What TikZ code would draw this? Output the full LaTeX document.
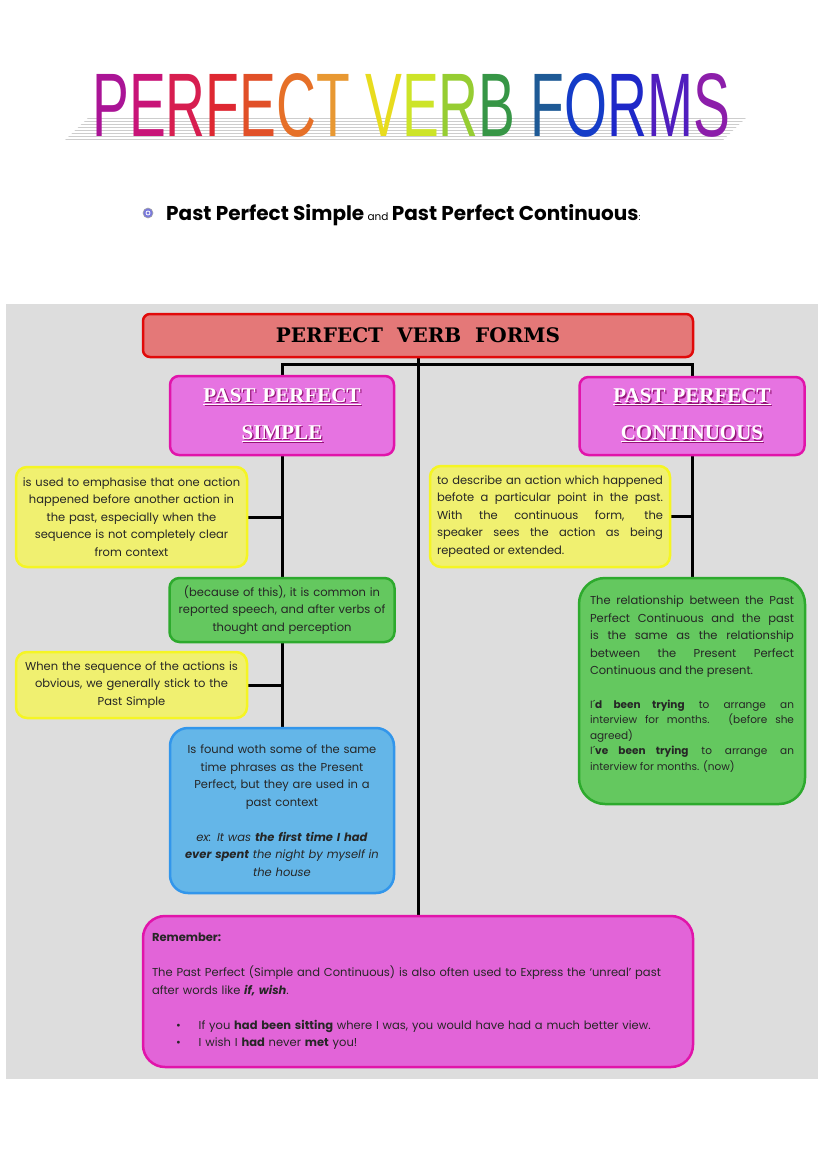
\documentclass[tikz,border=0pt]{standalone}
\usepackage{graphicx}
\usepackage{fontspec}
\setmainfont{Poppins}
\newfontfamily\titlefont{Liberation Sans}
\newfontfamily\slabfont{DejaVu Serif}
\newfontfamily\headfont{Liberation Serif}
\usetikzlibrary{backgrounds,patterns}

\definecolor{bggray}{RGB}{221,221,221}
\definecolor{redfill}{RGB}{228,120,120}
\definecolor{redline}{RGB}{225,10,10}
\definecolor{magfill}{RGB}{230,115,225}
\definecolor{magline}{RGB}{225,20,170}
\definecolor{remfill}{RGB}{226,100,216}
\definecolor{yelfill}{RGB}{240,240,112}
\definecolor{yelline}{RGB}{245,245,35}
\definecolor{grnfill}{RGB}{100,200,95}
\definecolor{grnline}{RGB}{45,170,45}
\definecolor{blufill}{RGB}{100,182,232}
\definecolor{bluline}{RGB}{50,150,235}
\definecolor{hdrshadow}{RGB}{150,20,120}
\definecolor{icoblue}{RGB}{120,120,220}
\definecolor{shadowgray}{RGB}{205,205,205}

\definecolor{tA}{RGB}{170,20,150}
\definecolor{tB}{RGB}{200,20,120}
\definecolor{tC}{RGB}{215,30,80}
\definecolor{tD}{RGB}{222,40,50}
\definecolor{tE}{RGB}{225,80,40}
\definecolor{tF}{RGB}{230,112,40}
\definecolor{tG}{RGB}{232,152,50}
\definecolor{tH}{RGB}{232,220,30}
\definecolor{tI}{RGB}{205,228,40}
\definecolor{tJ}{RGB}{150,205,50}
\definecolor{tK}{RGB}{55,150,70}
\definecolor{tL}{RGB}{30,90,150}
\definecolor{tM}{RGB}{20,60,200}
\definecolor{tN}{RGB}{30,40,200}
\definecolor{tO}{RGB}{80,30,190}
\definecolor{tP}{RGB}{140,30,170}

\newcommand\titletext{\titlefont\fontsize{40}{48}\selectfont
\textcolor{tA}{P}\textcolor{tB}{E}\textcolor{tC}{R}\textcolor{tD}{F}\textcolor{tE}{E}\textcolor{tF}{C}\textcolor{tG}{T} \textcolor{tH}{V}\textcolor{tI}{E}\textcolor{tJ}{R}\textcolor{tK}{B} \textcolor{tL}{F}\textcolor{tM}{O}\textcolor{tN}{R}\textcolor{tO}{M}\textcolor{tP}{S}}
\newcommand\shadowed[1]{\leavevmode\rlap{\kern1.3pt\raisebox{-1.3pt}{\textcolor{hdrshadow}{\underline{#1}}}}\textcolor{white}{\underline{#1}}}

\tikzset{
  boxbase/.style={draw, line width=2.5pt, inner sep=0pt},
  conn/.style={draw=black, line width=3pt},
  bodytext/.style={font=\fontsize{11.5}{17.5}\selectfont, text=black!85},
  hdrtext/.style={font=\headfont\bfseries\fontsize{21}{37}\selectfont, align=center, text width=200pt},
}

\begin{document}
\begin{tikzpicture}[x=1pt,y=-1pt]
\useasboundingbox (0,0) rectangle (821,1169);

% title shadow (striped band)
\fill[pattern=horizontal lines, pattern color=shadowgray] (64,141) -- (722,141) -- (748,116) -- (90,116) -- cycle;
% title
\node[anchor=south west, inner sep=0] (title) at (92,138) {\resizebox{638pt}{63pt}{\titletext}};

% subtitle
\node[circle, fill=icoblue, draw=gray!70, line width=0.6pt, minimum size=10pt, inner sep=0] (icon) at (148,213) {};
\node[circle, draw=white, line width=0.8pt, minimum size=4pt, inner sep=0] (iconin) at (icon.center) {};
\node[anchor=base west, inner sep=0] (sub) at (166,220) {\fontsize{20}{24}\selectfont\bfseries Past Perfect Simple\,{\mdseries\fontsize{10.5}{12}\selectfont and}\,Past Perfect Continuous{\mdseries\fontsize{9}{10}\selectfont :}};

% top box
\node[boxbase, draw=redline, fill=redfill, rounded corners=7pt, minimum width=550pt, minimum height=43pt] (top) at (418,335.5)
  {\slabfont\bfseries\fontsize{20}{24}\selectfont PERFECT\ \ VERB\ \ FORMS};

% headers
\node[boxbase, draw=magline, fill=magfill, rounded corners=9pt, minimum width=224pt, minimum height=79pt, hdrtext] (lh) at (282,415.5)
  {\shadowed{PAST PERFECT}\\\shadowed{SIMPLE}};
\node[boxbase, draw=magline, fill=magfill, rounded corners=9pt, minimum width=225pt, minimum height=78pt, hdrtext] (rh) at (692,416)
  {\shadowed{PAST PERFECT}\\\shadowed{CONTINUOUS}};

% left column
\node[boxbase, draw=yelline, fill=yelfill, rounded corners=11pt, minimum width=231pt, minimum height=100pt, text width=225pt, align=center, bodytext] (y1) at (131.5,517)
  {is used to emphasise that one action\\happened before another action in\\the past, especially when the\\sequence is not completely clear\\from context};
\node[boxbase, draw=grnline, fill=grnfill, rounded corners=10pt, minimum width=225pt, minimum height=64pt, text width=219pt, align=center, bodytext] (gm) at (282,610)
  {(because of this), it is common in\\reported speech, and after verbs of\\thought and perception};
\node[boxbase, draw=yelline, fill=yelfill, rounded corners=11pt, minimum width=231pt, minimum height=66pt, text width=225pt, align=center, bodytext] (y2) at (131.5,685)
  {When the sequence of the actions is\\obvious, we generally stick to the\\Past Simple};
\node[boxbase, draw=bluline, fill=blufill, rounded corners=18pt, minimum width=224pt, minimum height=165pt, text width=214pt, align=center, bodytext] (blue) at (282,810.5)
  {Is found woth some of the same\\time phrases as the Present\\Perfect, but they are used in a\\past context\\[17.5pt]
   \textit{ex: It was \textbf{the first time I had}}\\\textit{\textbf{ever spent} the night by myself in}\\\textit{the house}};

% right column
\node[boxbase, draw=yelline, fill=yelfill, rounded corners=11pt, minimum width=240pt, minimum height=101pt, text width=226pt, align=justify, bodytext] (yr) at (550,516.5)
  {to describe an action which happened\linebreak befote a particular point in the past.\linebreak With the continuous form, the\linebreak speaker sees the action as being\linebreak repeated or extended.};
\node[boxbase, draw=grnline, fill=grnfill, rounded corners=26pt, minimum width=226pt, minimum height=226pt, text width=204pt, align=justify, bodytext] (gr) at (692,691)
  {The relationship between the Past\linebreak Perfect Continuous and the past\linebreak is the same as the relationship\linebreak between the Present Perfect\linebreak Continuous and the present.\par\vspace{18pt}
   {\fontsize{10.5}{15.5}\selectfont I´\textbf{d been trying} to arrange an\linebreak interview for months. (before she\linebreak agreed)\\I´\textbf{ve been trying} to arrange an\linebreak interview for months. (now)\par}\vspace*{14pt}};

% remember box
\node[boxbase, draw=magline, fill=remfill, rounded corners=22pt, minimum width=550pt, minimum height=151pt, text width=532pt, align=left, bodytext] (rem) at (418,991.5)
  {\textbf{Remember:}\\[17.5pt]
   The Past Perfect (Simple and Continuous) is also often used to Express the ‘unreal’ past\\after words like \textbf{\textit{if, wish}}.\\[17.5pt]
   \hspace*{24pt}\textbullet\hspace{18pt}If you \textbf{had been sitting} where I was, you would have had a much better view.\\
   \hspace*{24pt}\textbullet\hspace{18pt}I wish I \textbf{had} never \textbf{met} you!};

\begin{pgfonlayer}{background}
  \fill[white] (0,0) rectangle (821,1169);
  \fill[bggray] (6,304) rectangle (818,1079);
  \draw[conn] (top.south) -- (rem.north);
  \draw[conn] (lh.north) -- ++(0,-10) -| (rh.north);
  \draw[conn] (lh.south) -- (blue.north);
  \draw[conn] (rh.south) -- (gr.north);
  \draw[conn] (y1.east) -- (y1.east -| lh.south);
  \draw[conn] (y2.east) -- (y2.east -| lh.south);
  \draw[conn] (yr.east) -- (yr.east -| rh.south);
\end{pgfonlayer}
\end{tikzpicture}
\end{document}
